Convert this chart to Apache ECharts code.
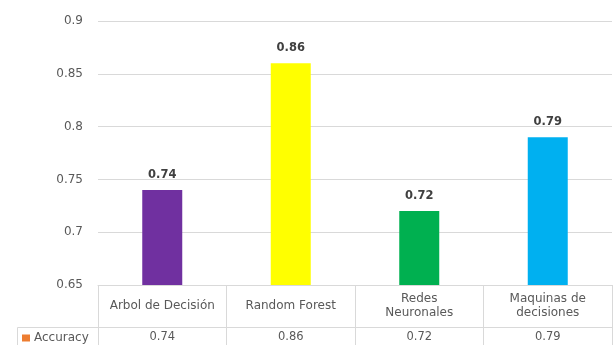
<!DOCTYPE html>
<html>
<head>
<meta charset="utf-8">
<script src="https://cdn.jsdelivr.net/npm/echarts@6/dist/echarts.min.js"></script>
<style>
  html, body { margin: 0; padding: 0; background: #ffffff; }
  #chart { width: 616px; height: 345px; }
</style>
</head>
<body>
<div id="chart"></div>
<script>
// Model accuracy comparison with a data table under the plot
const categories = ['Arbol de Decisión', 'Random Forest', 'Redes\nNeuronales', 'Maquinas de\ndecisiones'];
const accuracy = [0.74, 0.86, 0.72, 0.79];
const barColors = ['#7030A0', '#FFFF00', '#00B050', '#00B0F0'];
const seriesName = 'Accuracy';
const legendColor = '#ED7D31';
const yMin = 0.65, yMax = 0.9, yStep = 0.05;

const FONT = 'DejaVu Sans';
const TEXT = '#595959';
const LINE = '#d9d9d9';

const chart = echarts.init(document.getElementById('chart'), null, { renderer: 'canvas' });

chart.setOption({
  animation: false,
  backgroundColor: '#ffffff',
  textStyle: { fontFamily: FONT },
  grid: { left: 98, right: 4, top: 21, bottom: 60 },
  legend: {
    left: 22, top: 332, padding: 0,
    itemWidth: 8, itemHeight: 7, itemGap: 4,
    icon: 'rect',
    textStyle: { fontFamily: FONT, fontSize: 12, color: TEXT, padding: [0, 0, 0, -1] },
    data: [{ name: seriesName, itemStyle: { color: legendColor } }]
  },
  xAxis: [
    {
      // category row of the table; ticks at the boundaries form the column lines
      type: 'category',
      data: categories,
      position: 'bottom',
      axisLine: { show: true, lineStyle: { color: LINE, width: 1 } },
      axisTick: { show: true, length: 60, alignWithLabel: false, lineStyle: { color: LINE } },
      axisLabel: {
        interval: 0, margin: 21, verticalAlign: 'middle',
        fontFamily: FONT, fontSize: 12, color: TEXT, lineHeight: 14
      }
    },
    {
      // value row of the table
      type: 'category',
      data: categories,
      position: 'bottom',
      offset: 42,
      axisLine: { show: true, lineStyle: { color: LINE, width: 1 } },
      axisTick: { show: false },
      axisLabel: {
        interval: 0, margin: 10, verticalAlign: 'middle',
        fontFamily: FONT, fontSize: 11.5, color: TEXT,
        formatter: (v, i) => String(accuracy[i])
      }
    }
  ],
  yAxis: {
    type: 'value',
    min: yMin, max: yMax, interval: yStep,
    axisLine: { show: false },
    axisTick: { show: false },
    splitLine: { lineStyle: { color: LINE, width: 1 } },
    axisLabel: { margin: 15, fontFamily: FONT, fontSize: 12, color: TEXT }
  },
  series: [{
    name: seriesName,
    type: 'bar',
    xAxisIndex: 0,
    barWidth: 40,
    data: accuracy.map((v, i) => ({ value: v, itemStyle: { color: barColors[i] } })),
    label: {
      show: true, position: 'top', distance: 9,
      fontFamily: FONT, fontSize: 11.5, fontWeight: 'bold', color: '#404040'
    }
  }],
  graphic: [
    // left edge of the legend cell in the table
    { type: 'line', shape: { x1: 17.5, y1: 327.5, x2: 98, y2: 327.5 }, style: { stroke: LINE, lineWidth: 1 }, silent: true },
    { type: 'line', shape: { x1: 17.5, y1: 327.5, x2: 17.5, y2: 345 }, style: { stroke: LINE, lineWidth: 1 }, silent: true }
  ]
});
</script>
</body>
</html>
